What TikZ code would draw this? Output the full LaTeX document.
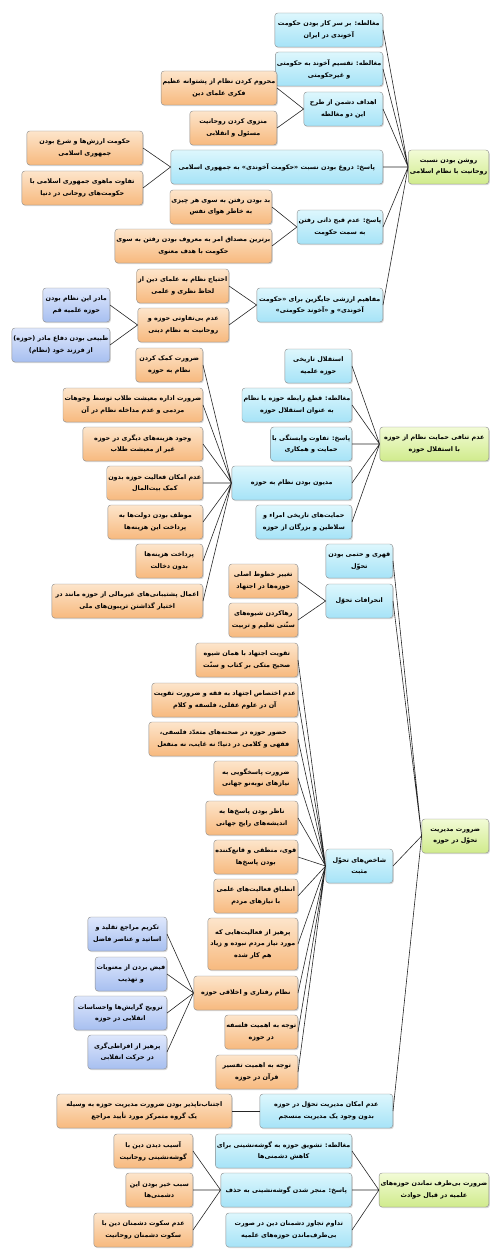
\documentclass[tikz,border=0pt]{standalone}
\usepackage{fontspec}
\newfontfamily\fafont[Script=Arabic]{DejaVu Sans}
\TeXXeTstate=1
\usetikzlibrary{shadows}

\newcommand{\rtl}[1]{\beginR#1\endR}

\definecolor{greenTop}{HTML}{F2FBD6}
\definecolor{greenBot}{HTML}{D0EB8C}
\definecolor{cyanTop}{HTML}{DDF7FD}
\definecolor{cyanBot}{HTML}{A6E3F7}
\definecolor{orangeTop}{HTML}{FDE5CB}
\definecolor{orangeBot}{HTML}{F7B97E}
\definecolor{blueTop}{HTML}{DEE7FC}
\definecolor{blueBot}{HTML}{A7BFF0}

\begin{document}
\begin{tikzpicture}[
    x=1pt, y=-1pt,
    font=\fafont\bfseries\fontsize{6.4}{11.5}\selectfont,
    % Define styles
    box/.style={rectangle, rounded corners=3pt, draw=black!45, thin, align=center, anchor=east, minimum height=34pt, inner sep=1.5pt,
        drop shadow={shadow xshift=1pt, shadow yshift=-1.2pt, opacity=0.3}},
    rootbox/.style={box, top color=greenTop, bottom color=greenBot},
    topicbox/.style={box, top color=cyanTop, bottom color=cyanBot},
    ideabox/.style={box, top color=orangeTop, bottom color=orangeBot},
    notebox/.style={box, top color=blueTop, bottom color=blueBot},
    link/.style={draw=black!85, line width=0.6pt}
]
\useasboundingbox (0,0) rectangle (500,1260);

% 1. Relation of clergy and the system
\node[rootbox, minimum width=78pt] (relation) at (489,167) {\rtl{روشن بودن نسبت}\\\rtl{روحانیت با نظام اسلامی}};
\node[topicbox, minimum width=108pt] (fallacyRule) at (383,30) {\rtl{مغالطه: بر سر کار بودن حکومت}\\\rtl{آخوندی در ایران}};
\node[topicbox, minimum width=97pt] (fallacySplit) at (383,69) {\rtl{مغالطه: تقسیم آخوند به حکومتی}\\\rtl{و غیرحکومتی}};
\node[topicbox, minimum width=79pt] (enemyAims) at (383,109) {\rtl{اهداف دشمن از طرح}\\\rtl{این دو مغالطه}};
\node[topicbox, minimum width=212pt] (replyLie) at (383,167) {\rtl{پاسخ: دروغ بودن نسبت «حکومت آخوندی» به جمهوری اسلامی}};
\node[topicbox, minimum width=84pt] (replyGov) at (383,227) {\rtl{پاسخ: عدم قبح ذاتی رفتن}\\\rtl{به سمت حکومت}};
\node[topicbox, minimum width=126pt] (valueTerms) at (383,305) {\rtl{مفاهیم ارزشی جایگزین برای «حکومت}\\\rtl{آخوندی» و «آخوند حکومتی»}};

\node[ideabox, minimum width=112pt] (deprive) at (277,88) {\rtl{محروم کردن نظام از پشتوانه عظیم}\\\rtl{فکری علمای دین}};
\node[ideabox, minimum width=87pt] (isolate) at (277,128) {\rtl{منزوی کردن روحانیت}\\\rtl{مسئول و انقلابی}};
\node[ideabox, minimum width=116pt] (valueGov) at (143,148) {\rtl{حکومت ارزش‌ها و شرع بودن}\\\rtl{جمهوری اسلامی}};
\node[ideabox, minimum width=121pt] (diffGov) at (143,188) {\rtl{تفاوت ماهوی جمهوری اسلامی با}\\\rtl{حکومت‌های روحانی در دنیا}};
\node[ideabox, minimum width=99pt] (badDesire) at (272,207) {\rtl{بد بودن رفتن به سوی هر چیزی}\\\rtl{به خاطر هوای نفس}};
\node[ideabox, minimum width=146pt] (bestDuty) at (272,246) {\rtl{برترین مصداق امر به معروف بودن رفتن به سوی}\\\rtl{حکومت با هدف معنوی}};
\node[ideabox, minimum width=91pt] (needScholars) at (229,286) {\rtl{احتیاج نظام به علمای دین از}\\\rtl{لحاظ نظری و علمی}};
\node[ideabox, minimum width=91pt] (notIndiff) at (229,325) {\rtl{عدم بی‌تفاوتی حوزه و}\\\rtl{روحانیت به نظام دینی}};
\node[notebox, minimum width=67pt] (motherQom) at (110,305) {\rtl{مادر این نظام بودن}\\\rtl{حوزه علمیه قم}};
\node[notebox, minimum width=97pt] (motherDefends) at (110,345) {\rtl{طبیعی بودن دفاع مادر (حوزه)}\\\rtl{از فرزند خود (نظام)}};

% 2. Support versus independence
\node[rootbox, minimum width=109pt] (support) at (489,444) {\rtl{عدم تنافی حمایت نظام از حوزه}\\\rtl{با استقلال حوزه}};
\node[topicbox, minimum width=67pt] (histIndep) at (352,366) {\rtl{استقلال تاریخی}\\\rtl{حوزه علمیه}};
\node[topicbox, minimum width=103pt] (fallacyCut) at (352,405) {\rtl{مغالطه: قطع رابطه حوزه با نظام}\\\rtl{به عنوان استقلال حوزه}};
\node[topicbox, minimum width=78pt] (replyDiff) at (352,444) {\rtl{پاسخ: تفاوت وابستگی با}\\\rtl{حمایت و همکاری}};
\node[topicbox, minimum width=120pt] (indebted) at (352,483) {\rtl{مدیون بودن نظام به حوزه}};
\node[topicbox, minimum width=96pt] (histAid) at (352,522) {\rtl{حمایت‌های تاریخی امراء و}\\\rtl{سلاطین و بزرگان از حوزه}};

\node[ideabox, minimum width=67pt] (mustHelp) at (203,365) {\rtl{ضرورت کمک کردن}\\\rtl{نظام به حوزه}};
\node[ideabox, minimum width=138pt] (livelihood) at (203,405) {\rtl{ضرورت اداره معیشت طلاب توسط وجوهات}\\\rtl{مردمی و عدم مداخله نظام در آن}};
\node[ideabox, minimum width=120pt] (otherCosts) at (203,444) {\rtl{وجود هزینه‌های دیگری در حوزه}\\\rtl{غیر از معیشت طلاب}};
\node[ideabox, minimum width=95pt] (treasury) at (203,483) {\rtl{عدم امکان فعالیت حوزه بدون}\\\rtl{کمک بیت‌المال}};
\node[ideabox, minimum width=95pt] (stateDuty) at (203,522) {\rtl{موظف بودن دولت‌ها به}\\\rtl{پرداخت این هزینه‌ها}};
\node[ideabox, minimum width=67pt] (noInterfere) at (203,561) {\rtl{پرداخت هزینه‌ها}\\\rtl{بدون دخالت}};
\node[ideabox, minimum width=151pt] (nonFinancial) at (203,601) {\rtl{اعمال پشتیبانی‌های غیرمالی از حوزه مانند در}\\\rtl{اختیار گذاشتن تریبون‌های ملی}};

% 3. Managing change in the seminary
\node[rootbox, minimum width=67pt] (manage) at (489,836) {\rtl{ضرورت مدیریت}\\\rtl{تحوّل در حوزه}};
\node[topicbox, minimum width=67pt] (inevitable) at (393,561) {\rtl{قهری و حتمی بودن}\\\rtl{تحوّل}};
\node[topicbox, minimum width=67pt] (deviations) at (393,601) {\rtl{انحرافات تحوّل}};
\node[topicbox, minimum width=67pt] (positive) at (393,866) {\rtl{شاخص‌های تحوّل}\\\rtl{مثبت}};
\node[topicbox, minimum width=133pt] (coherent) at (393,1111) {\rtl{عدم امکان مدیریت تحوّل در حوزه}\\\rtl{بدون وجود یک مدیریت منسجم}};

\node[ideabox, minimum width=69pt] (mainLines) at (298,581) {\rtl{تغییر خطوط اصلی}\\\rtl{حوزه‌ها در اجتهاد}};
\node[ideabox, minimum width=69pt] (traditions) at (298,620) {\rtl{رهاکردن شیوه‌های}\\\rtl{سنّتی تعلیم و تربیت}};
\node[ideabox, minimum width=102pt] (ijtihad) at (298,660) {\rtl{تقویت اجتهاد با همان شیوه}\\\rtl{صحیح متکی بر کتاب و سنّت}};
\node[ideabox, minimum width=146pt] (rational) at (298,700) {\rtl{عدم اختصاص اجتهاد به فقه و ضرورت تقویت}\\\rtl{آن در علوم عقلی، فلسفه و کلام}};
\node[ideabox, minimum width=149pt] (presence) at (298,739) {\rtl{حضور حوزه در صحنه‌های متعدّد فلسفی،}\\\rtl{فقهی و کلامی در دنیا؛ نه غایب، نه منفعل}};
\node[ideabox, minimum width=84pt] (newNeeds) at (298,778) {\rtl{ضرورت پاسخگویی به}\\\rtl{نیازهای نوبه‌نو جهانی}};
\node[ideabox, minimum width=92pt] (globalIdeas) at (298,818) {\rtl{ناظر بودن پاسخ‌ها به}\\\rtl{اندیشه‌های رایج جهانی}};
\node[ideabox, minimum width=84pt] (strongAnswers) at (298,857) {\rtl{قوی، منطقی و قانع‌کننده}\\\rtl{بودن پاسخ‌ها}};
\node[ideabox, minimum width=84pt] (peopleNeeds) at (298,896) {\rtl{انطباق فعالیت‌های علمی}\\\rtl{با نیازهای مردم}};
\node[ideabox, minimum width=90pt, minimum height=52pt] (avoidRedundant) at (298,944) {\rtl{پرهیز از فعالیت‌هایی که}\\\rtl{مورد نیاز مردم نبوده و زیاد}\\\rtl{هم کار شده}};
\node[ideabox, minimum width=104pt] (conduct) at (298,993) {\rtl{نظام رفتاری و اخلاقی حوزه}};
\node[ideabox, minimum width=69pt] (philosophy) at (298,1032) {\rtl{توجه به اهمیت فلسفه}\\\rtl{در حوزه}};
\node[ideabox, minimum width=82pt] (tafsir) at (298,1072) {\rtl{توجه به اهمیت تفسیر}\\\rtl{قرآن در حوزه}};
\node[ideabox, minimum width=175pt] (centralGroup) at (232,1111) {\rtl{اجتناب‌ناپذیر بودن ضرورت مدیریت حوزه به وسیله}\\\rtl{یک گروه متمرکز مورد تأیید مراجع}};

\node[notebox, minimum width=79pt] (honour) at (167,934) {\rtl{تکریم مراجع تقلید و}\\\rtl{اساتید و عناصر فاضل}};
\node[notebox, minimum width=68pt] (spirituality) at (167,974) {\rtl{فیض بردن از معنویات}\\\rtl{و تهذیب}};
\node[notebox, minimum width=93pt] (revolutionary) at (167,1013) {\rtl{ترویج گرایش‌ها واحساسات}\\\rtl{انقلابی در حوزه}};
\node[notebox, minimum width=79pt] (extremism) at (167,1052) {\rtl{پرهیز از افراطی‌گری}\\\rtl{در حرکت انقلابی}};

% 4. Not staying neutral
\node[rootbox, minimum width=109pt] (neutral) at (489,1190) {\rtl{ضرورت بی‌طرف نماندن حوزه‌های}\\\rtl{علمیه در قبال حوادث}};
\node[topicbox, minimum width=126pt] (fallacyRetreat) at (352,1151) {\rtl{مغالطه: تشویق حوزه به گوشه‌نشینی برای}\\\rtl{کاهش دشمنی‌ها}};
\node[topicbox, minimum width=131pt] (replyRemoval) at (352,1190) {\rtl{پاسخ: منجر شدن گوشه‌نشینی به حذف}};
\node[topicbox, minimum width=126pt] (aggression) at (352,1230) {\rtl{تداوم تجاوز دشمنان دین در صورت}\\\rtl{بی‌طرف‌ماندن حوزه‌های علمیه}};

\node[ideabox, minimum width=79pt] (religionHarm) at (193,1151) {\rtl{آسیب دیدن دین با}\\\rtl{گوشه‌نشینی روحانیت}};
\node[ideabox, minimum width=67pt] (blessing) at (193,1190) {\rtl{سبب خیر بودن این}\\\rtl{دشمنی‌ها}};
\node[ideabox, minimum width=99pt] (enemiesLoud) at (193,1230) {\rtl{عدم سکوت دشمنان دین با}\\\rtl{سکوت دشمنان روحانیت}};

% Connections
% Relation branch
\draw[link] (relation.west) -- (fallacyRule.east) (relation.west) -- (fallacySplit.east)
    (relation.west) -- (enemyAims.east) (relation.west) -- (replyLie.east)
    (relation.west) -- (replyGov.east) (relation.west) -- (valueTerms.east);
\draw[link] (enemyAims.west) -- (deprive.east) (enemyAims.west) -- (isolate.east);
\draw[link] (replyLie.west) -- (valueGov.east) (replyLie.west) -- (diffGov.east);
\draw[link] (replyGov.west) -- (badDesire.east) (replyGov.west) -- (bestDuty.east);
\draw[link] (valueTerms.west) -- (needScholars.east) (valueTerms.west) -- (notIndiff.east);
\draw[link] (notIndiff.west) -- (motherQom.east) (notIndiff.west) -- (motherDefends.east);

% Support branch
\draw[link] (support.west) -- (histIndep.east) (support.west) -- (fallacyCut.east)
    (support.west) -- (replyDiff.east) (support.west) -- (indebted.east)
    (support.west) -- (histAid.east);
\draw[link] (indebted.west) -- (mustHelp.east) (indebted.west) -- (livelihood.east)
    (indebted.west) -- (otherCosts.east) (indebted.west) -- (treasury.east)
    (indebted.west) -- (stateDuty.east) (indebted.west) -- (noInterfere.east)
    (indebted.west) -- (nonFinancial.east);

% Change branch
\draw[link] (manage.west) -- (inevitable.east) (manage.west) -- (deviations.east)
    (manage.west) -- (positive.east) (manage.west) -- (coherent.east);
\draw[link] (deviations.west) -- (mainLines.east) (deviations.west) -- (traditions.east);
\draw[link] (positive.west) -- (ijtihad.east) (positive.west) -- (rational.east)
    (positive.west) -- (presence.east) (positive.west) -- (newNeeds.east)
    (positive.west) -- (globalIdeas.east) (positive.west) -- (strongAnswers.east)
    (positive.west) -- (peopleNeeds.east) (positive.west) -- (avoidRedundant.east)
    (positive.west) -- (conduct.east) (positive.west) -- (philosophy.east)
    (positive.west) -- (tafsir.east);
\draw[link] (conduct.west) -- (honour.east) (conduct.west) -- (spirituality.east)
    (conduct.west) -- (revolutionary.east) (conduct.west) -- (extremism.east);
\draw[link] (coherent.west) -- (centralGroup.east);

% Neutrality branch
\draw[link] (neutral.west) -- (fallacyRetreat.east) (neutral.west) -- (replyRemoval.east)
    (neutral.west) -- (aggression.east);
\draw[link] (replyRemoval.west) -- (religionHarm.east) (replyRemoval.west) -- (blessing.east)
    (replyRemoval.west) -- (enemiesLoud.east);

\end{tikzpicture}
\end{document}
